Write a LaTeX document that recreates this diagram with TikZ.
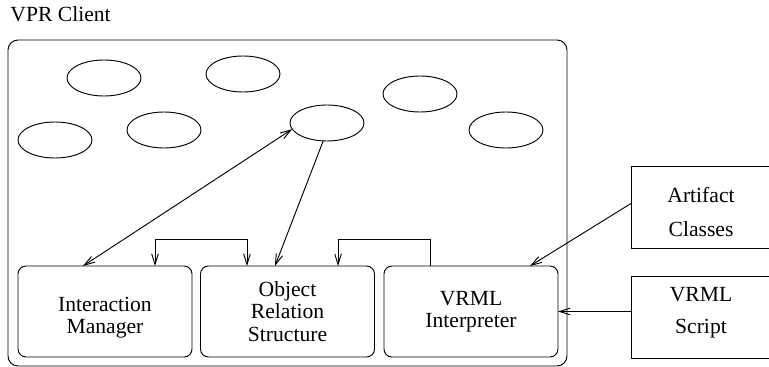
\documentclass[tikz,border=0pt]{standalone}
\usepackage{fontspec}
\setmainfont{Liberation Serif}
\usetikzlibrary{shapes.geometric, arrows.meta}

\begin{document}
\begin{tikzpicture}[x=0.75pt, y=-0.75pt, line width=0.7pt,
    >={Straight Barb[length=8pt, width=5pt]}]
  %tikz%
  % VPR Client, architecture
  %tikz%
    \tikzset{bulle/.style={draw, ellipse, inner sep=0pt, outer sep=0pt,
        minimum width=55.5pt, minimum height=27pt}}
    \tikzset{boite/.style={draw, rounded corners=6pt, inner sep=0pt, outer sep=0pt,
        minimum width=130.5pt, minimum height=68.25pt, align=center,
        font=\fontsize{16.2}{16.8}\selectfont}}
    \tikzset{cadre/.style={draw, inner sep=0pt, outer sep=0pt,
        minimum width=105pt, minimum height=61.5pt}}
    \tikzset{texte/.style={inner sep=0pt, align=center,
        font=\fontsize{16.2}{16.8}\selectfont}}

    \useasboundingbox (0,0) rectangle (769,367);

    \node[anchor=base west, inner sep=0pt, font=\fontsize{16.2}{16.8}\selectfont]
      (titre) at (10,22) {VPR Client};
    \node[draw, rounded corners=7.5pt, inner sep=0pt, outer sep=0pt,
      minimum width=419.25pt, minimum height=244.5pt] (client) at (287.5,203) {};

    \foreach \nom/\x/\y in {e1/104/78, e2/243/74, e3/55/140, e4/164/130,
                            e5/327/123, e6/420/94, e7/506/130}{
      \node[bulle] (\nom) at (\x,\y) {};
    }

    \node[boite, text height=37pt] (im) at (105,311.5) {Interaction\\Manager};
    \node[boite] (ors) at (287.5,311.5) {Object\\Relation\\Structure};
    \node[boite] (vi) at (471,311.5) {VRML\\Interpreter};

    \node[cadre] (art) at (701,207.5) {};
    \node[texte] (art-t) at ([yshift=-3.5pt]art.center) {Artifact\\[8.7pt]Classes};
    \node[cadre] (script) at (701,317) {};
    \node[texte] (script-t) at ([yshift=3pt]script.center) {VRML\\[7.2pt]Script};

    \draw[<->] (e5.190) -- ([xshift=-16.5pt]im.north);
    \draw[->] (e5.258) -- ([xshift=-9.4pt]ors.north);
    \draw[<->] ([xshift=37.5pt]im.north) -- ++(0,-27) -| ([xshift=-30.4pt]ors.north);
    \draw[->] ([xshift=-30.75pt]vi.north) -- ++(0,-27) -| ([xshift=37.9pt]ors.north);
    \draw[->] ([yshift=3pt]art.west) -- ([xshift=44.25pt]vi.north);
    \draw[->] (script.west |- vi.east) -- (vi.east);

  \end{tikzpicture}
\end{document}
